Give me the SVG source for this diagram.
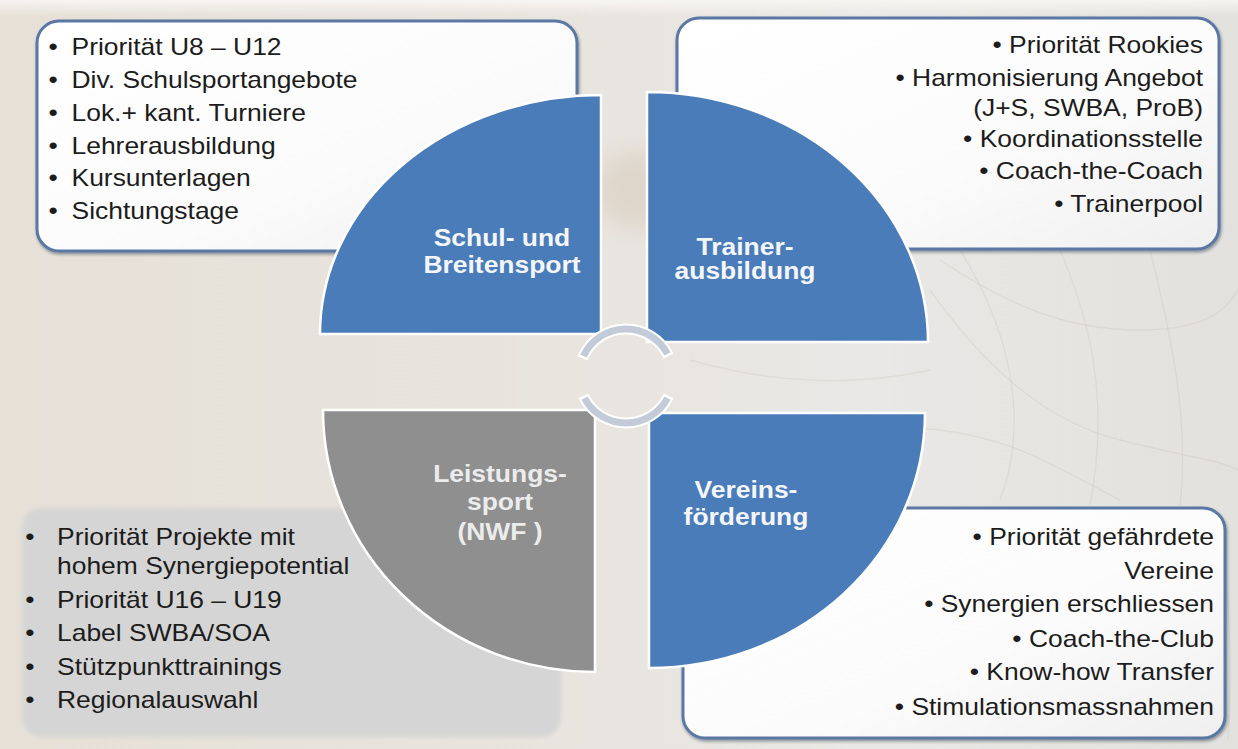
<svg xmlns="http://www.w3.org/2000/svg" width="1238" height="749" viewBox="0 0 1238 749">
  <defs>
    <linearGradient id="bg" x1="0" y1="0" x2="1" y2="0">
      <stop offset="0" stop-color="#e6e0d7"/>
      <stop offset="0.45" stop-color="#e8e4de"/>
      <stop offset="0.7" stop-color="#e9e8e6"/>
      <stop offset="1" stop-color="#e3e1dd"/>
    </linearGradient>
    <linearGradient id="topGlow" x1="0" y1="0" x2="0" y2="1">
      <stop offset="0" stop-color="#f7f5f2" stop-opacity="1"/>
      <stop offset="1" stop-color="#f7f5f2" stop-opacity="0"/>
    </linearGradient>
    <linearGradient id="boxFill" x1="0" y1="0" x2="1" y2="1">
      <stop offset="0" stop-color="#ffffff"/>
      <stop offset="0.6" stop-color="#fbfbfb"/>
      <stop offset="1" stop-color="#efefef"/>
    </linearGradient>
    <filter id="shadow" x="-5%" y="-5%" width="110%" height="115%">
      <feDropShadow dx="1" dy="2" stdDeviation="1.5" flood-color="#1e2a3a" flood-opacity="0.45"/>
    </filter>
    <filter id="soft" x="-5%" y="-5%" width="110%" height="110%">
      <feGaussianBlur stdDeviation="2"/>
    </filter>
    <filter id="haze" x="-50%" y="-50%" width="200%" height="200%">
      <feGaussianBlur stdDeviation="12"/>
    </filter>
    <style>
      .box { fill: url(#boxFill); stroke: #5a78a3; stroke-width: 3; filter: url(#shadow); }
      .grayBox { fill: #d5d5d5; filter: url(#soft); }
      .blue { fill: #4a7cb9; stroke: #ffffff; stroke-width: 2.5; }
      .gray { fill: #8f8f8f; stroke: #ffffff; stroke-width: 2.5; }
      .item { font-family: "Liberation Sans", Arial, sans-serif; font-size: 23px; fill: #1c1c1c; }
      .label { font-family: "Liberation Sans", Arial, sans-serif; font-size: 23px; font-weight: bold; fill: #f4f6fa; text-anchor: middle; }
      .labelGray { fill: #ececec; }
      .end { text-anchor: end; }
      .mid { text-anchor: middle; }
      .ringWhite { fill: none; stroke: #ffffff; stroke-width: 11; stroke-linecap: butt; }
      .ring { fill: none; stroke: #c3cbd8; stroke-width: 7; stroke-linecap: butt; }
      .sketch { fill: none; stroke: #a89c8c; stroke-width: 1.4; opacity: 0.14; }
    </style>
  </defs>

  <!-- background -->
  <rect width="1238" height="749" fill="url(#bg)"/>
  <rect width="1238" height="16" fill="url(#topGlow)"/>
  <ellipse cx="640" cy="190" rx="45" ry="40" fill="#c9b49a" opacity="0.3" filter="url(#haze)"/>
  <g id="sketch">
    <path class="sketch" d="M940,260 C1000,300 1060,330 1140,330 S1230,300 1238,290"/>
    <path class="sketch" d="M930,290 C980,360 1040,420 1120,440 S1220,460 1238,470"/>
    <path class="sketch" d="M960,250 C1010,330 1030,420 1000,500"/>
    <path class="sketch" d="M1060,250 C1090,320 1110,400 1090,505"/>
    <path class="sketch" d="M1150,250 C1170,330 1190,420 1180,505"/>
    <path class="sketch" d="M690,360 C760,380 840,390 930,370"/>
    <path class="sketch" d="M700,460 C780,440 860,420 940,430 S1060,470 1120,500"/>
    <path class="sketch" d="M900,700 C940,660 980,640 1000,600"/>
    <path class="sketch" d="M1225,560 C1230,620 1232,680 1228,740"/>
  </g>

  <!-- Schul- und Breitensport -->
  <g id="node-schulsport">
    <rect class="box" x="37" y="21" width="540" height="230" rx="22"/>
    <g class="item" transform="translate(71.5,0) scale(1.15,1)">
      <text class="mid" x="-16" y="55.5">•</text><text x="0" y="55.5">Priorität U8 – U12</text>
      <text class="mid" x="-16" y="88">•</text><text x="0" y="88">Div. Schulsportangebote</text>
      <text class="mid" x="-16" y="121">•</text><text x="0" y="121">Lok.+ kant. Turniere</text>
      <text class="mid" x="-16" y="154">•</text><text x="0" y="154">Lehrerausbildung</text>
      <text class="mid" x="-16" y="186.5">•</text><text x="0" y="186.5">Kursunterlagen</text>
      <text class="mid" x="-16" y="219">•</text><text x="0" y="219">Sichtungstage</text>
    </g>
    <path class="blue" d="M601,334 L320,334 A281,239 0 0 1 601,95 Z"/>
    <g transform="translate(502,0) scale(1.15,1)">
      <text class="label" x="0" y="246">Schul- und</text>
      <text class="label" x="0" y="273">Breitensport</text>
    </g>
  </g>

  <!-- Trainerausbildung -->
  <g id="node-trainer">
    <rect class="box" x="677" y="18" width="542" height="231" rx="22"/>
    <g class="item end" transform="translate(1203,0) scale(1.15,1)">
      <text x="0" y="53">• Priorität Rookies</text>
      <text x="0" y="86">• Harmonisierung Angebot</text>
      <text x="0" y="116">(J+S, SWBA, ProB)</text>
      <text x="0" y="147">• Koordinationsstelle</text>
      <text x="0" y="179">• Coach-the-Coach</text>
      <text x="0" y="212">• Trainerpool</text>
    </g>
    <path class="blue" d="M647,342 L647,92 A281,250 0 0 1 928,342 Z"/>
    <g transform="translate(745,0) scale(1.15,1)">
      <text class="label" x="0" y="255">Trainer-</text>
      <text class="label" x="0" y="279">ausbildung</text>
    </g>
  </g>

  <!-- Leistungssport -->
  <g id="node-leistungssport">
    <rect class="grayBox" x="22" y="508" width="539" height="229" rx="20"/>
    <g class="item" transform="translate(57,0) scale(1.15,1)">
      <text class="mid" x="-23.5" y="545">•</text><text x="0" y="545">Priorität Projekte mit</text>
      <text x="0" y="574">hohem Synergiepotential</text>
      <text class="mid" x="-23.5" y="608">•</text><text x="0" y="608">Priorität U16 – U19</text>
      <text class="mid" x="-23.5" y="641">•</text><text x="0" y="641">Label SWBA/SOA</text>
      <text class="mid" x="-23.5" y="675">•</text><text x="0" y="675">Stützpunkttrainings</text>
      <text class="mid" x="-23.5" y="708">•</text><text x="0" y="708">Regionalauswahl</text>
    </g>
    <path class="gray" d="M595,410 L595,672 A272,262 0 0 1 323,410 Z"/>
    <g transform="translate(500,0) scale(1.15,1)">
      <text class="label labelGray" x="0" y="482">Leistungs-</text>
      <text class="label labelGray" x="0" y="510">sport</text>
      <text class="label labelGray" x="0" y="540">(NWF )</text>
    </g>
  </g>

  <!-- Vereinsförderung -->
  <g id="node-verein">
    <rect class="box" x="683" y="508" width="542" height="230" rx="22"/>
    <g class="item end" transform="translate(1214,0) scale(1.15,1)">
      <text x="0" y="545">• Priorität gefährdete</text>
      <text x="0" y="579">Vereine</text>
      <text x="0" y="612">• Synergien erschliessen</text>
      <text x="0" y="647">• Coach-the-Club</text>
      <text x="0" y="680">• Know-how Transfer</text>
      <text x="0" y="715">• Stimulationsmassnahmen</text>
    </g>
    <path class="blue" d="M649,413 L925,413 A276,255 0 0 1 649,668 Z"/>
    <g transform="translate(746,0) scale(1.15,1)">
      <text class="label" x="0" y="498">Vereins-</text>
      <text class="label" x="0" y="525">förderung</text>
    </g>
  </g>

  <!-- cycle arcs in the centre -->
  <g id="connectors">
    <path class="ringWhite" d="M582.4,358.4 A47,47 0 0 1 668.6,356.1"/>
    <path class="ringWhite" d="M668.6,395.9 A47,47 0 0 1 583.4,395.9"/>
    <path class="ring" d="M583.4,356.1 A47,47 0 0 1 667.5,353.9"/>
    <path class="ring" d="M667.5,398.1 A47,47 0 0 1 584.5,398.1"/>
  </g>
</svg>
